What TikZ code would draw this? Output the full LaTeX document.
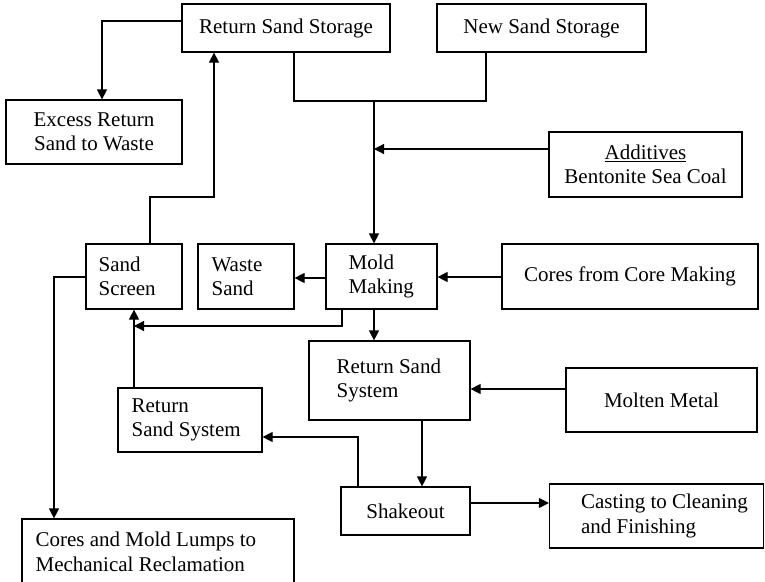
\documentclass[tikz,border=0pt]{standalone}
\usepackage{fontspec}
\setmainfont{Liberation Serif}
\usetikzlibrary{arrows.meta}

\begin{document}
\begin{tikzpicture}[x=1pt, y=-1pt,
  box/.style={draw, line width=1.2pt, inner sep=0pt, align=center,
    font=\fontsize{21}{24.5}\selectfont},
  txt/.style={inner sep=0pt, anchor=west, align=left,
    font=\fontsize{21}{24.5}\selectfont},
  arr/.style={line width=1.2pt, -{Triangle[length=10pt,width=10pt]}},
  wire/.style={line width=1.2pt}]
\useasboundingbox (0,0) rectangle (765,581);
\clip (0,0) rectangle (765,581);

% storage and supply boxes
\node[box, minimum width=208pt, minimum height=48pt] (rss) at (286,28) {Return Sand Storage};
\node[box, minimum width=209pt, minimum height=48pt] (nss) at (541.5,28) {New Sand Storage};
\node[box, minimum width=176pt, minimum height=64pt] (excess) at (94,132) {Excess Return\\Sand to Waste};
\node[box, minimum width=193pt, minimum height=65pt] (add) at (645.5,164.5) {\underline{Additives}\\Bentonite Sea Coal};

% middle row
\node[box, minimum width=96pt, minimum height=65pt] (screen) at (134,276.5) {};
\node[txt] (screen-t) at ([xshift=13pt]screen.west) {Sand\\Screen};
\node[box, minimum width=96pt, minimum height=65pt] (waste) at (246,276.5) {};
\node[txt] (waste-t) at ([xshift=14pt]waste.west) {Waste\\Sand};
\node[box, minimum width=111pt, minimum height=65pt] (mold) at (381.5,276.5) {};
\node[txt] (mold-t) at ([xshift=23pt]mold.west) {Mold\\Making};
\node[box, minimum width=256pt, minimum height=65pt] (cores) at (630,276.5) {Cores from Core Making};

% return sand loop
\node[box, minimum width=161pt, minimum height=79pt] (rsys) at (389.5,380.5) {};
\node[txt] (rsys-t) at ([xshift=28pt]rsys.west) {Return Sand\\System};
\node[box, line width=2.2pt, minimum width=191pt, minimum height=64pt] (molten) at (661.5,400) {Molten Metal};
\node[box, minimum width=144pt, minimum height=64pt] (rsys2) at (190,420) {};
\node[txt] (rsys2-t) at ([xshift=14pt]rsys2.west) {Return\\Sand System};
\node[box, minimum width=129pt, minimum height=48pt] (shake) at (405.5,511) {Shakeout};
\node[box, minimum width=214pt, minimum height=64pt] (casting) at (656.5,516) {};
\node[txt] (casting-t) at ([xshift=32pt]casting.west) {Casting to Cleaning\\and Finishing};
\node[box, minimum width=272pt, minimum height=66pt] (lumps) at (158,552) {};
\node[txt] (lumps-t) at ([xshift=14pt]lumps.west) {Cores and Mold Lumps to\\Mechanical Reclamation};

% excess sand leaves return storage
\draw[arr] (rss.west |- 0,21) -| (excess.north -| 102,0);

% both storages merge and feed mold making
\coordinate (j) at (374,101);
\draw[wire] (rss.south -| 294,0) -- (294,101) -- (486,101) -- (nss.south -| 486,0);
\draw[arr] (j) -- (mold.north -| j);
\coordinate (addin) at (374,149);
\draw[arr] (add.west |- addin) -- (addin);

% mold making connections
\draw[arr] (mold.west |- 0,278) -- (waste.east |- 0,278);
\draw[arr] (cores.west |- 0,277) -- (mold.east |- 0,277);
\coordinate (scrin) at (134,326);
\draw[arr] (mold.south -| 342,0) |- (scrin);
\draw[arr] (mold.south -| j) -- (rsys.north -| j);

% sand screen connections
\draw[arr] (rsys2.north -| screen) -- (screen.south);
\draw[arr] (screen.north -| 150,0) |- (214,197) -- (rss.south -| 214,0);
\draw[arr] (screen.west |- 0,277) -| (lumps.north -| 54,0);

% casting loop
\draw[arr] (molten.west |- 0,389) -- (rsys.east |- 0,389);
\draw[arr] (rsys.south -| 422,0) -- (shake.north -| 422,0);
\draw[arr] (shake.north -| 358,0) |- (rsys2.east |- 0,437);
\draw[arr] (shake.east |- 0,503) -- (casting.west |- 0,503);
\end{tikzpicture}
\end{document}
